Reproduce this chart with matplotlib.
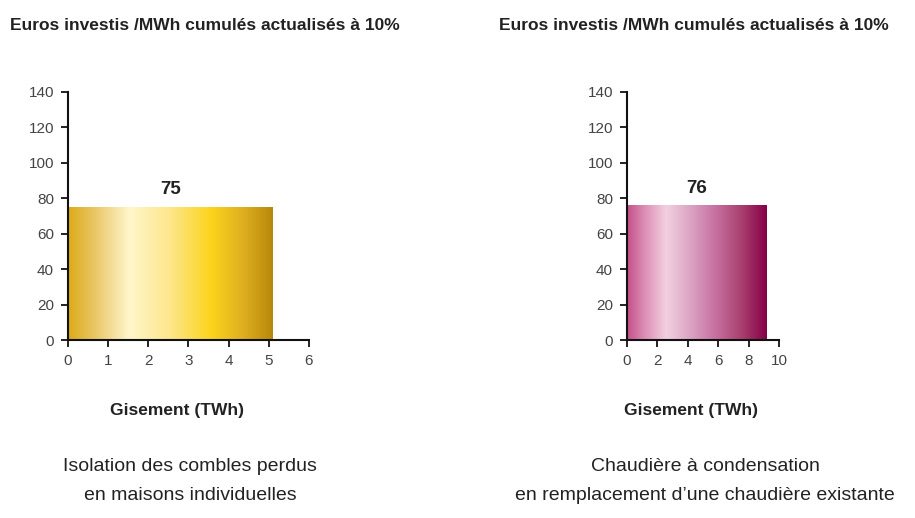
import numpy as np
import matplotlib.pyplot as plt
from matplotlib.colors import LinearSegmentedColormap
from matplotlib.patches import Rectangle
from matplotlib import font_manager

# Data
titles = ["Euros investis /MWh cumulés actualisés à 10%", "Euros investis /MWh cumulés actualisés à 10%"]
gisement = [5.1, 9.2]          # TWh (bar width)
cout = [75, 76]                # euros / MWh
xmax = [6, 10]
xticks = [[0, 1, 2, 3, 4, 5, 6], [0, 2, 4, 6, 8, 10]]
yticks = [0, 20, 40, 60, 80, 100, 120, 140]
xlabel = "Gisement (TWh)"
captions = ["Isolation des combles perdus\nen maisons individuelles",
            "Chaudière à condensation\nen remplacement d’une chaudière existante"]

gold = LinearSegmentedColormap.from_list("gold", [
    (0.0, "#dcaa18"), (0.12, "#e8c460"), (0.3, "#fff6cc"), (0.5, "#fde68a"),
    (0.7, "#fcd41c"), (0.85, "#e0b020"), (1.0, "#b8880c")])
magenta = LinearSegmentedColormap.from_list("mag", [
    (0.0, "#c4508a"), (0.12, "#dc8cb4"), (0.28, "#f2d0e0"), (0.45, "#dca4c4"),
    (0.65, "#c46c9c"), (0.82, "#a8406e"), (1.0, "#860048")])
cmaps = [gold, magenta]

names = {f.name for f in font_manager.fontManager.ttflist}
narrow = "Liberation Sans Narrow" if "Liberation Sans Narrow" in names else "Liberation Sans"

fig = plt.figure(figsize=(9.15, 5.18), dpi=100)
plt.rcParams['font.family'] = ['Liberation Sans', 'DejaVu Sans']

axes_pos = [[68/915, 0.3436, 241/915, 0.4788], [627/915, 0.3436, 152/915, 0.4788]]
title_x = [10/915, 499/915]
label_x = [177/915, 691/915]
cap_x = [190/915, 705/915]

for i in range(2):
    ax = fig.add_axes(axes_pos[i])
    ax.set_xlim(0, xmax[i])
    ax.set_ylim(0, 140)
    grad = np.linspace(0, 1, 256).reshape(1, -1)
    im = ax.imshow(grad, cmap=cmaps[i], aspect='auto',
                   extent=[0, gisement[i], 0, cout[i]], zorder=1)
    rect = Rectangle((0, 0), gisement[i], cout[i], transform=ax.transData,
                     facecolor='none', edgecolor='none')
    ax.add_patch(rect)
    im.set_clip_path(rect)
    ax.set_xlim(0, xmax[i])
    ax.set_ylim(0, 140)
    ax.text(gisement[i] / 2, cout[i] + 5, str(cout[i]), ha='center', va='bottom',
            fontsize=13.5, fontweight='bold', color='#222222')
    ax.set_xticks(xticks[i])
    ax.set_yticks(yticks)
    for s in ['top', 'right']:
        ax.spines[s].set_visible(False)
    for s in ['left', 'bottom']:
        ax.spines[s].set_linewidth(1.5)
        ax.spines[s].set_color('#111111')
    ax.tick_params(direction='out', length=5, width=1.3, colors='#111111',
                   labelcolor='#444444', labelsize=11, pad=5)
    fig.text(title_x[i], 1 - 25/518, titles[i], ha='left', va='center',
             fontsize=12.5, fontweight='bold', color='#222222')
    fig.text(label_x[i], 1 - 411/518, xlabel, ha='center', va='center',
             fontsize=12.5, fontweight='bold', color='#222222')
    fig.text(cap_x[i], 1 - 481/518, captions[i], ha='center', va='center',
             fontsize=14, color='#222222', family=[narrow, 'DejaVu Sans'],
             linespacing=1.85)

fig.savefig("out.png", dpi=100)
